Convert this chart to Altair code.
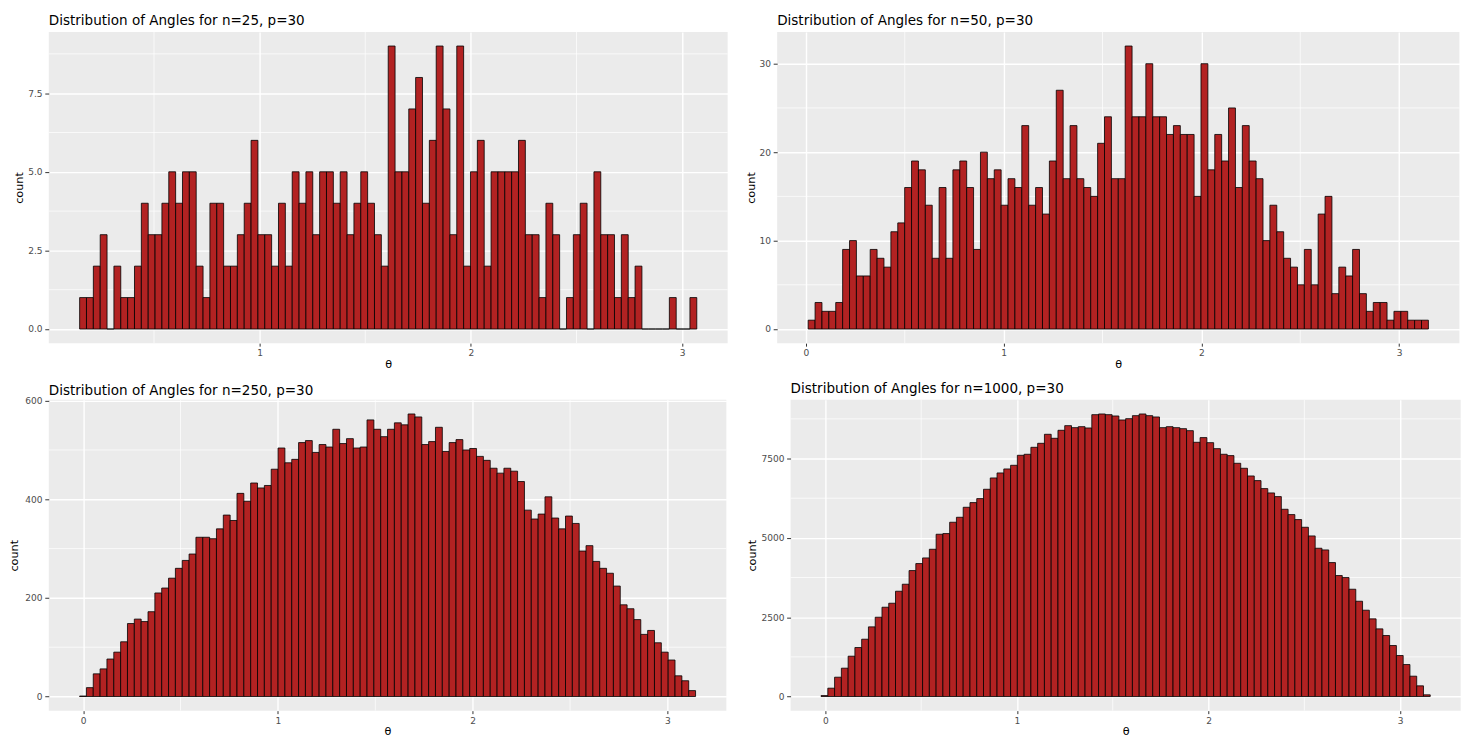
import altair as alt
import pandas as pd

FONT = "DejaVu Sans"

TITLES = [
    "Distribution of Angles for n=25, p=30",
    "Distribution of Angles for n=50, p=30",
    "Distribution of Angles for n=250, p=30",
    "Distribution of Angles for n=1000, p=30",
]

counts_n25 = [1, 1, 2, 3, 0, 2, 1, 1, 2, 4, 3, 3, 4, 5, 4, 5, 5, 2, 1, 4, 4, 2, 2, 3, 4, 6, 3, 3, 2, 4,
              2, 5, 4, 5, 3, 5, 5, 4, 5, 3, 4, 5, 4, 3, 2, 9, 5, 5, 7, 8, 4, 6, 9, 7, 3, 9, 2, 5, 6, 2,
              5, 5, 5, 5, 6, 3, 3, 1, 4, 3, 0, 1, 3, 4, 0, 5, 3, 3, 1, 3, 1, 2, 0, 0, 0, 0, 1, 0, 0, 1]

counts_n50 = [1, 3, 2, 2, 3, 9, 10, 6, 6, 9, 8, 7, 11, 12, 16, 19, 18, 14, 8, 16, 8, 18, 19, 16, 9, 20, 17, 18, 14, 17,
              16, 23, 14, 16, 13, 19, 27, 17, 23, 17, 16, 15, 21, 24, 17, 17, 32, 24, 24, 30, 24, 24, 22, 23, 22, 22, 15, 30, 18, 22,
              19, 25, 16, 23, 19, 17, 10, 14, 11, 8, 7, 5, 9, 5, 13, 15, 4, 7, 6, 9, 4, 2, 3, 3, 1, 2, 2, 1, 1, 1]

counts_n250 = [1, 18, 46, 56, 76, 90, 111, 148, 157, 152, 172, 210, 220, 240, 260, 276, 289, 323, 323, 320,
               340, 368, 357, 412, 396, 433, 423, 428, 461, 504, 474, 481, 515, 519, 495, 511, 506, 542, 513, 523,
               504, 506, 561, 542, 527, 542, 555, 551, 573, 567, 511, 517, 546, 497, 515, 521, 500, 503, 487, 479,
               463, 453, 463, 457, 436, 378, 360, 370, 405, 362, 340, 366, 351, 295, 306, 274, 260, 250, 224, 186,
               178, 156, 126, 134, 109, 90, 74, 42, 32, 12]

counts_n1000 = [30, 263, 609, 893, 1271, 1544, 1806, 2195, 2499, 2814, 2940, 3318, 3539, 3969, 4190,
                4368, 4641, 5114, 5135, 5492, 5649, 5964, 6111, 6237, 6531, 6888, 7046, 7172, 7287, 7602,
                7634, 7854, 7980, 8264, 8138, 8390, 8537, 8474, 8505, 8463, 8883, 8904, 8883, 8841, 8715,
                8757, 8852, 8904, 8852, 8810, 8474, 8505, 8474, 8442, 8379, 8012, 8159, 8001, 7812, 7634,
                7592, 7350, 7193, 6951, 6804, 6552, 6416, 6300, 5901, 5733, 5576, 5334, 5061, 4673, 4620,
                4221, 3812, 3749, 3381, 3003, 2720, 2447, 2132, 1922, 1607, 1292, 1008, 641, 336, 53]

ALL_COUNTS = [counts_n25, counts_n50, counts_n250, counts_n1000]

# histogram bins (theta units): left edge of the first bin and bin width
bin_start = [0.148, 0.0115, -0.0184, -0.0225]
bin_width = [0.03246, 0.03485, 0.03514, 0.03533]

x_ticks = [[1, 2, 3], [0, 1, 2, 3], [0, 1, 2, 3], [0, 1, 2, 3]]
x_minor = [[0.5, 1.5, 2.5], [0.5, 1.5, 2.5], [0.5, 1.5, 2.5], [0.5, 1.5, 2.5]]
y_ticks = [[0, 2.5, 5, 7.5], [0, 10, 20, 30], [0, 200, 400, 600], [0, 2500, 5000, 7500]]
y_minor = [[1.25, 3.75, 6.25, 8.75], [5, 15, 25], [100, 300, 500], [1250, 3750, 6250, 8750]]
y_format = [".1f", "d", "d", "d"]

widths = [682.6, 686.0, 681.3, 673.8]
heights = [313, 313, 312.5, 312.5]
y_title_pad = [3, 3, 5, 3]
# small downward nudge for a title pushed up by a top-edge axis label
title_dy = [0, 0, 4.5, 0]


def panel(i):
    counts = ALL_COUNTS[i]
    n = len(counts)
    s, w = bin_start[i], bin_width[i]
    df = pd.DataFrame({
        "x0": [s + k * w for k in range(n)],
        "x1": [s + (k + 1) * w for k in range(n)],
        "count": counts,
    })
    lo, hi = s, s + n * w
    pad = 0.05 * (hi - lo)
    ymax = max(counts)
    xs = alt.Scale(domain=[lo - pad, hi + pad], nice=False, zero=False)
    ys = alt.Scale(domain=[-0.05 * ymax, 1.05 * ymax], nice=False, zero=False)
    xa = alt.Axis(values=x_ticks[i], format="d", title="θ")
    ya = alt.Axis(values=y_ticks[i], format=y_format[i], title="count",
                  titlePadding=y_title_pad[i])

    vminor = alt.Chart(pd.DataFrame({"x0": x_minor[i]})).mark_rule(
        color="white", strokeWidth=0.7
    ).encode(x=alt.X("x0:Q", scale=xs, axis=xa))
    hminor = alt.Chart(pd.DataFrame({"count": y_minor[i]})).mark_rule(
        color="white", strokeWidth=0.7
    ).encode(y=alt.Y("count:Q", scale=ys, axis=ya))
    bars = alt.Chart(df).mark_rect(
        fill="#B22222", stroke="black", strokeWidth=0.8
    ).encode(
        x=alt.X("x0:Q", scale=xs, axis=xa),
        x2="x1:Q",
        y=alt.Y("count:Q", scale=ys, axis=ya),
        y2=alt.datum(0),
    )
    if title_dy[i]:
        ttl = alt.TitleParams(text=TITLES[i], dy=title_dy[i])
    else:
        ttl = TITLES[i]
    return alt.layer(vminor, hminor, bars).properties(
        width=widths[i], height=heights[i], title=ttl
    )


chart = alt.vconcat(
    alt.hconcat(panel(0), panel(1), spacing=16.4),
    alt.hconcat(panel(2), panel(3), spacing=19.9),
    spacing=12,
).properties(
    padding={"left": 0, "top": 4, "right": 0, "bottom": 0}
).configure_view(
    fill="#EBEBEB", stroke=None
).configure_axis(
    domain=False, tickColor="#333333", tickWidth=1,
    labelColor="#4D4D4D", labelFontSize=9.1, labelFont=FONT,
    titleFont=FONT, titleFontSize=11.3, titleFontWeight="normal", titleColor="black",
    gridColor="white", gridWidth=1.4,
).configure_axisX(
    tickSize=3, labelPadding=2.5, titlePadding=0.5
).configure_axisY(
    tickSize=4, labelPadding=2.7
).configure_title(
    font=FONT, fontSize=13.6, fontWeight="normal", color="black",
    anchor="start", frame="group", offset=3.6
)

chart.save("out.html", embed_options={"renderer": "svg", "actions": False})
